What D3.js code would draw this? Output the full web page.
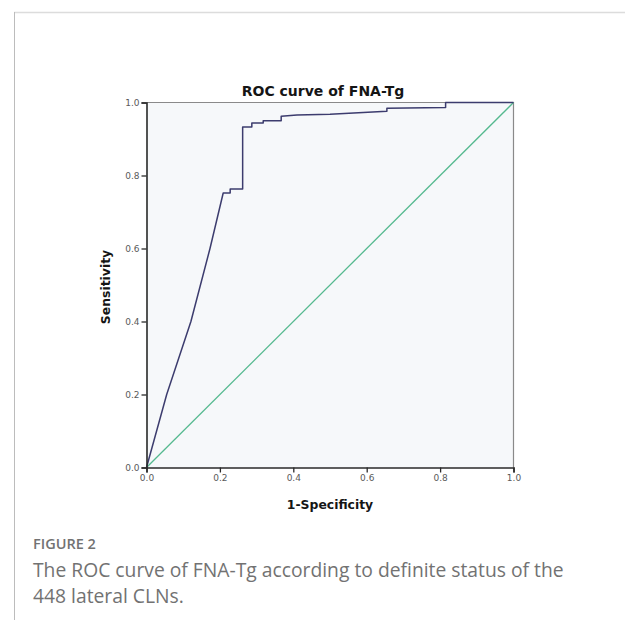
<!DOCTYPE html>
<html>
<head>
<meta charset="utf-8">
<script src="https://cdn.jsdelivr.net/npm/d3@7/dist/d3.min.js"></script>
<style>
  html, body { margin: 0; padding: 0; background: #fff; }
  svg { display: block; }
  .tick-lbl { font-family: "DejaVu Sans", Verdana, sans-serif; font-size: 9px; fill: #5a5a5a; }
  .ax-title { font-family: "DejaVu Sans", Verdana, sans-serif; font-weight: bold; fill: #151515; }
  .cap { font-family: "Open Sans", sans-serif; fill: #727272; }
</style>
</head>
<body>
<svg id="chart" width="625" height="620"></svg>
<script>
  /* ── Data ──────────────────────────────────────────────────────────────── */
  const fpr = [0, 0.055, 0.121, 0.173, 0.209, 0.228, 0.228, 0.262, 0.262, 0.287, 0.287,
               0.318, 0.318, 0.367, 0.367, 0.41, 0.5, 0.655, 0.655, 0.815, 0.815, 1];
  const tpr = [0, 0.2, 0.4, 0.6, 0.752, 0.752, 0.763, 0.763, 0.933, 0.933, 0.944,
               0.944, 0.95, 0.95, 0.962, 0.966, 0.968, 0.976, 0.984, 0.986, 1, 1];
  const refX = [0, 1];
  const refY = [0, 1];
  const ticks = [0, 0.2, 0.4, 0.6, 0.8, 1.0];
  const title = 'ROC curve of FNA-Tg';
  const xTitle = '1-Specificity';
  const yTitle = 'Sensitivity';
  const figLabel = 'FIGURE 2';
  const captionLines = [
    'The ROC curve of FNA-Tg according to definite status of the',
    '448 lateral CLNs.'
  ];

  /* ── Layout ───────────────────────────────────────────────────────────── */
  const P = { left: 146.5, right: 513.5, top: 102.5, bottom: 467.5 };

  const svg = d3.select('#chart');

  // page frame lines
  svg.append('line').attr('x1', 14).attr('x2', 625).attr('y1', 12.5).attr('y2', 12.5)
    .attr('stroke', '#dcdcdc').attr('stroke-width', 1.5);
  svg.append('line').attr('x1', 14.5).attr('x2', 14.5).attr('y1', 12).attr('y2', 620)
    .attr('stroke', '#bcbcbc').attr('stroke-width', 1);

  const x = d3.scaleLinear().domain([0, 1]).range([P.left, P.right]);
  const y = d3.scaleLinear().domain([0, 1]).range([P.bottom, P.top]);

  // plot background + top/right frame
  svg.append('rect')
    .attr('x', P.left).attr('y', P.top)
    .attr('width', P.right - P.left).attr('height', P.bottom - P.top)
    .attr('fill', '#f6f8fa');
  svg.append('path')
    .attr('d', `M${P.left},${P.top}H${P.right}V${P.bottom}`)
    .attr('fill', 'none').attr('stroke', '#8a8a8a').attr('stroke-width', 1.2);

  // reference diagonal
  svg.append('path')
    .datum(d3.zip(refX, refY))
    .attr('d', d3.line().x(d => x(d[0])).y(d => y(d[1])))
    .attr('fill', 'none').attr('stroke', '#55b98f').attr('stroke-width', 1.3);

  // ROC curve
  svg.append('path')
    .datum(d3.zip(fpr, tpr))
    .attr('d', d3.line().x(d => x(d[0])).y(d => y(d[1])))
    .attr('fill', 'none').attr('stroke', '#3c3c6e').attr('stroke-width', 1.5)
    .attr('stroke-linejoin', 'round');

  // axes
  const fmt = d3.format('.1f');
  const xAxis = svg.append('g').attr('transform', `translate(0,${P.bottom})`)
    .call(d3.axisBottom(x).tickValues(ticks).tickFormat(fmt).tickSize(5).tickPadding(2));
  const yAxis = svg.append('g').attr('transform', `translate(${P.left},0)`)
    .call(d3.axisLeft(y).tickValues(ticks).tickFormat(fmt).tickSize(5).tickPadding(2));
  [xAxis, yAxis].forEach(a => {
    a.select('.domain').attr('stroke', '#2a2a2a').attr('stroke-width', 1.6);
    a.selectAll('.tick line').attr('stroke', '#2a2a2a').attr('stroke-width', 1.3);
    a.selectAll('.tick text').attr('class', 'tick-lbl').attr('font-size', null)
      .attr('font-family', null).attr('fill', null);
  });
  yAxis.selectAll('.tick text').attr('dy', '0.35em');

  // titles
  svg.append('text').attr('class', 'ax-title')
    .attr('x', 323).attr('y', 96).attr('text-anchor', 'middle')
    .attr('font-size', 14).text(title);
  svg.append('text').attr('class', 'ax-title')
    .attr('x', 330).attr('y', 509).attr('text-anchor', 'middle')
    .attr('font-size', 12.4).text(xTitle);
  svg.append('text').attr('class', 'ax-title')
    .attr('transform', `translate(110,${(P.top + P.bottom) / 2 + 2}) rotate(-90)`)
    .attr('text-anchor', 'middle')
    .attr('font-size', 12.4).text(yTitle);

  // caption
  svg.append('text').attr('class', 'cap')
    .attr('x', 33).attr('y', 549).attr('font-size', 14.5).attr('font-weight', 600)
    .text(figLabel);
  svg.append('g').selectAll('text').data(captionLines).join('text')
    .attr('class', 'cap')
    .attr('x', 33).attr('y', (d, i) => 577 + i * 26)
    .attr('font-size', 19.3)
    .text(d => d);
</script>
</body>
</html>
